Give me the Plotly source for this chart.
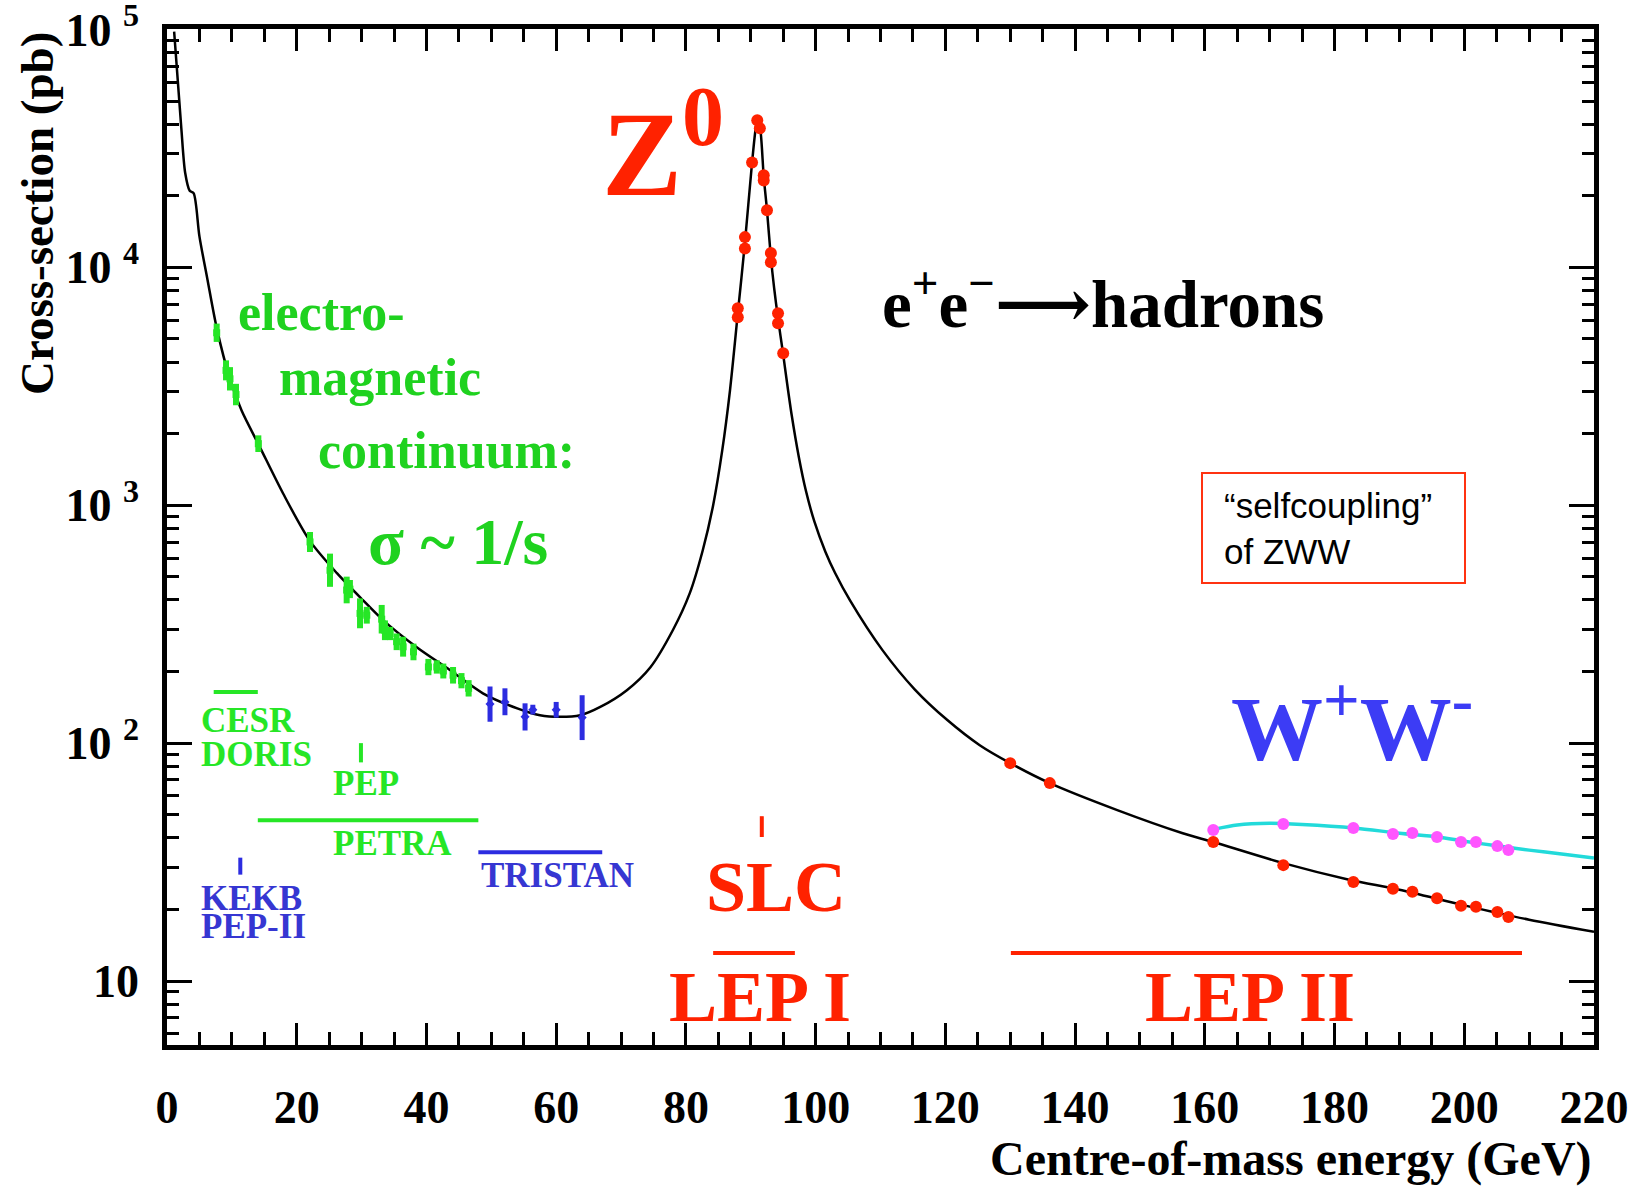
import plotly.graph_objects as go

# ---------------- data ----------------
# theoretical e+e- -> hadrons cross-section (pb) vs centre-of-mass energy (GeV)
curve_x = [1.1, 2.2, 2.8, 3.5, 4.1, 5.0, 6.2, 7.7, 9.7, 11.5, 14.3, 17.9, 22.0, 26.2,
           30.2, 33.3, 38.5, 43.6, 48.7, 54.0, 57.5, 60.6, 63.7, 66.8, 70.9, 74.5,
           78.0, 80.6, 82.6, 84.2, 85.6, 86.8, 88.0, 89.1, 90.2, 90.8, 91.1, 91.5,
           92.0, 92.5, 93.1, 93.6, 94.2, 95.0, 95.5, 96.3, 97.4, 98.5, 99.8, 101.5,
           103.0, 105.3, 110.3, 115.3, 120.3, 125.3, 130.0, 136.1, 146.5, 156.6,
           161.3, 172.1, 182.4, 190.0, 200.0, 210.0, 220.0]
curve_y = [98000, 38700, 25000, 21000, 20500, 13500, 9000, 5500, 3400, 2500, 1760,
           1120, 710, 518, 399, 329, 253, 203, 162, 140, 131, 129, 131, 142, 167,
           208, 299, 427, 647, 1000, 1700, 3050, 6400, 12700, 27600, 39000, 42000,
           37500, 24000, 17400, 11000, 8200, 6100, 4300, 3410, 2400, 1600, 1150, 855,
           638, 519, 398, 246, 168, 125, 98, 82.4, 67.9, 52.3, 41.8, 38.4, 31.3,
           26.6, 24.2, 20.8, 18.1, 16.1]

# electromagnetic continuum measurements (green)
em_x = [7.66, 9.10, 9.71, 10.64, 14.08, 22.05, 25.13, 27.7, 28.2, 29.76, 30.8, 33.1,
        33.6, 34.4, 35.4, 36.4, 38.0, 40.3, 41.6, 42.6, 44.1, 45.4, 46.5]
em_y = [5310, 3690, 3400, 2920, 1815, 701, 533, 440, 444, 351, 345, 332, 298, 289,
        267, 254, 242, 209, 209, 201, 193, 183, 170]
em_up = [493, 375, 407, 319, 152, 71, 93, 61, 41, 55, 29, 49, 30, 19, 22, 26, 20, 17,
         14, 15, 16, 14, 14]
em_dn = [451, 340, 363, 288, 141, 65, 79, 53, 37, 47, 27, 43, 27, 18, 21, 23, 19, 16,
         13, 14, 15, 13, 13]

# TRISTAN measurements (blue)
tr_x = [49.8, 52.1, 55.2, 56.4, 60.0, 64.0]
tr_y = [146, 149, 129, 138, 138, 128]
tr_up = [27, 21, 18, 7, 11, 31]
tr_dn = [23, 18, 16, 6, 10, 25]

# LEP hadronic cross-section measurements (red)
lep_x = [88.0, 88.0, 89.1, 89.1, 90.2, 91.0, 91.4, 92.0, 92.0, 92.5, 93.1, 93.1,
         94.2, 94.2, 95.0, 130.0, 136.1, 161.3, 172.1, 182.9, 189.0, 192.0, 195.8,
         199.5, 201.8, 205.1, 206.8]
lep_y = [6730, 6170, 13400, 12000, 27600, 41500, 38400, 24400, 23200, 17400, 11500,
         10500, 6410, 5820, 4350, 82.4, 67.9, 38.4, 30.7, 26.1, 24.4, 23.7, 22.3,
         20.7, 20.5, 19.5, 18.6]

# W+W- measurements (magenta) and prediction (cyan)
ww_x = [161.3, 172.1, 182.9, 189.0, 192.0, 195.8, 199.5, 201.8, 205.1, 206.8]
ww_y = [43.1, 45.7, 44.0, 41.5, 41.9, 40.3, 38.4, 38.4, 36.9, 35.5]
wwth_x = [161.5, 165, 170, 175, 183, 190, 196, 200, 205, 210, 215, 220]
wwth_y = [43.5, 45.3, 46.0, 45.5, 44.0, 41.8, 40.3, 38.7, 37.0, 35.5, 34.2, 32.9]

# accelerator energy ranges
cesr_x, cesr_y = [7.2, 14.0], [164, 164]
pep_x, pep_y = [29.9, 29.9], [83, 100]
petra_x, petra_y = [14.0, 48.0], [47.4, 47.4]
tristan_x, tristan_y = [48.0, 67.1], [34.8, 34.8]
kekb_x, kekb_y = [11.3, 11.3], [28, 33]
slc_x, slc_y = [91.7, 91.7], [40.3, 49.3]
lep1_x, lep1_y = [84.2, 96.8], [13.1, 13.1]
lep2_x, lep2_y = [130.1, 208.9], [13.1, 13.1]

y_tickvals = [10, 100, 1000, 10000, 100000]
y_ticktext = ["10", "10 <sup>2</sup>", "10 <sup>3</sup>", "10 <sup>4</sup>", "10 <sup>5</sup>"]
x_tickvals = [0, 20, 40, 60, 80, 100, 120, 140, 160, 180, 200, 220]

# ---------------- styling ----------------
SERIF = "Liberation Serif"
GREEN = "#26e626"
GREEN_T = "#1fd21f"
BLUE = "#2c2ce0"
BLUE_T = "#3636d2"
RED = "#ff2200"
MAGENTA = "#ff55ff"
CYAN = "#22dada"

W, H = 1637, 1186
L, R, T, B = 167, 43, 29, 141
PW, PH = W - L - R, H - T - B


def px(xp):
    return (xp - L) / PW


def py(yp):
    return (H - B - yp) / PH


fig = go.Figure()

fig.add_trace(go.Scatter(x=curve_x, y=curve_y, mode="lines",
                         line=dict(color="black", width=2.5, shape="spline", smoothing=0.8)))

for xs, ys, c in [(cesr_x, cesr_y, GREEN), (pep_x, pep_y, GREEN), (petra_x, petra_y, GREEN),
                  (tristan_x, tristan_y, BLUE), (kekb_x, kekb_y, BLUE),
                  (slc_x, slc_y, RED), (lep1_x, lep1_y, RED), (lep2_x, lep2_y, RED)]:
    fig.add_trace(go.Scatter(x=xs, y=ys, mode="lines", line=dict(color=c, width=4)))

fig.add_trace(go.Scatter(x=em_x, y=em_y, mode="markers",
                         marker=dict(color=GREEN, size=7, symbol="square"),
                         error_y=dict(type="data", array=em_up, arrayminus=em_dn,
                                      color=GREEN, thickness=6, width=0)))
fig.add_trace(go.Scatter(x=tr_x, y=tr_y, mode="markers",
                         marker=dict(color=BLUE, size=7, symbol="diamond"),
                         error_y=dict(type="data", array=tr_up, arrayminus=tr_dn,
                                      color=BLUE, thickness=5, width=0)))
fig.add_trace(go.Scatter(x=lep_x, y=lep_y, mode="markers",
                         marker=dict(color=RED, size=12)))
fig.add_trace(go.Scatter(x=wwth_x, y=wwth_y, mode="lines",
                         line=dict(color=CYAN, width=3.5, shape="spline", smoothing=0.8)))
fig.add_trace(go.Scatter(x=ww_x, y=ww_y, mode="markers",
                         marker=dict(color=MAGENTA, size=12)))

ann = []


def add(text, x, y, size, color, xanchor="left", family=SERIF, bold=True, **kw):
    t = f"<b>{text}</b>" if bold else text
    ann.append(dict(text=t, x=x, y=y, xref="paper", yref="paper", xanchor=xanchor,
                    yanchor="middle", showarrow=False,
                    font=dict(family=family, size=size, color=color), **kw))


add("Z<sup>0</sup>", px(600), py(145), 120, RED)
add("e<sup>+</sup>e<sup>−</sup><span style='font-family:DejaVu Serif'>⟶</span>hadrons",
    px(880), py(300), 67, "black")
add("electro-", px(236), py(313), 52, GREEN_T)
add("magnetic", px(277), py(378), 52, GREEN_T)
add("continuum:", px(316), py(450), 52, GREEN_T)
add("σ ~ 1/s", px(366), py(541), 66, GREEN_T)
add("CESR", px(199), py(720), 35, GREEN)
add("DORIS", px(199), py(754), 35, GREEN)
add("PEP", px(331), py(783), 35, GREEN)
add("PETRA", px(331), py(843), 35, GREEN)
add("TRISTAN", px(479), py(875), 35, BLUE_T)
add("KEKB", px(199), py(898), 35, BLUE_T)
add("PEP-II", px(199), py(926), 35, BLUE_T)
add("SLC", px(776), py(887), 72, RED, xanchor="center")
add("LEP I", px(760), py(997), 72, RED, xanchor="center")
add("LEP II", px(1250), py(997), 72, RED, xanchor="center")
add("W<sup>+</sup>W<sup>-</sup>", px(1352), py(722), 92, "#3c3cf5", xanchor="center")
add("“selfcoupling”<br>of ZWW", px(1222), py(528), 35, "black",
    family="Liberation Sans", bold=False, align="left")
add("Cross-section (pb)", px(37), py(214), 47, "black", xanchor="center", textangle=-90)
add("Centre-of-mass energy (GeV)", 1.0, py(1159), 48, "black", xanchor="right")

shapes = [dict(type="rect", xref="paper", yref="paper", x0=px(1202), x1=px(1465),
               y0=py(583), y1=py(473), line=dict(color="#ff3311", width=2),
               fillcolor="rgba(0,0,0,0)")]

fig.update_layout(
    width=W, height=H, margin=dict(l=L, r=R, t=T, b=B, autoexpand=False),
    paper_bgcolor="white", plot_bgcolor="white", showlegend=False,
    annotations=ann, shapes=shapes,
    xaxis=dict(range=[0, 220], tickvals=x_tickvals, ticks="inside", ticklen=22,
               tickwidth=3, tickcolor="black", showline=True, linewidth=4.5,
               linecolor="black", mirror="ticks", showgrid=False, zeroline=False,
               ticklabelstandoff=18, automargin=False,
               tickfont=dict(family=SERIF, size=46, color="black", weight="bold"),
               minor=dict(ticks="inside", ticklen=13, tickwidth=2.5, dtick=5,
                          tickcolor="black", showgrid=False)),
    yaxis=dict(type="log", range=[0.731, 5.002], tickvals=y_tickvals, ticktext=y_ticktext,
               ticks="inside", ticklen=25, tickwidth=3, tickcolor="black",
               showline=True, linewidth=4.5, linecolor="black", mirror="ticks",
               showgrid=False, zeroline=False, ticklabelstandoff=14,
               ticklabeloverflow="allow", automargin=False,
               tickfont=dict(family=SERIF, size=46, color="black", weight="bold"),
               minor=dict(ticks="inside", ticklen=12, tickwidth=2.5, dtick="D1",
                          tickcolor="black", showgrid=False)),
)

fig.write_html("out.html", config={"displayModeBar": False},
               post_script="document.body.style.margin='0';document.body.style.overflow='hidden';")
